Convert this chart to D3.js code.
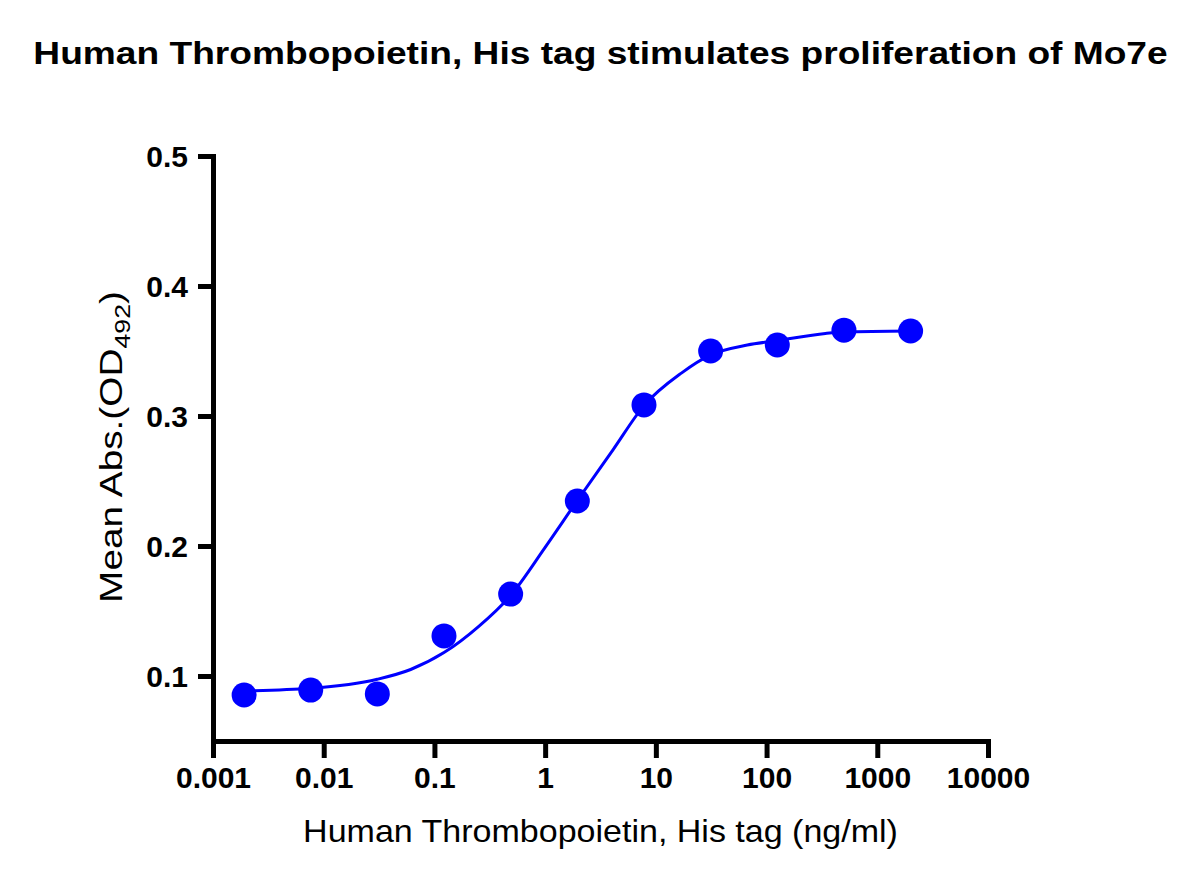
<!DOCTYPE html>
<html><head><meta charset="utf-8">
<script src="https://cdn.jsdelivr.net/npm/d3@7"></script>
<style>body{margin:0;background:#fff}svg{display:block}text{font-family:"Liberation Sans",Arial,sans-serif}</style>
</head><body><svg id="c" width="1200" height="879"></svg>
<script>
const concentrations = [0.00191, 0.00763, 0.0305, 0.122, 0.488, 1.953, 7.8125, 31.25, 125, 500, 2000];
const absorbance = [0.0854, 0.0892, 0.0862, 0.1308, 0.163, 0.2346, 0.3085, 0.350, 0.3546, 0.366, 0.3654];
const curveX = [0.00191, 0.00763, 0.0305, 0.061, 0.122, 0.25, 0.488, 1.0, 1.953, 4.1, 7.8125, 17, 31.25, 67, 125, 340, 500, 2000];
const curveY = [0.0885, 0.0905, 0.0975, 0.105, 0.118, 0.138, 0.162, 0.199, 0.235, 0.274, 0.308, 0.333, 0.347, 0.3546, 0.358, 0.3635, 0.3646, 0.3654];
const xTicks = [0.001, 0.01, 0.1, 1, 10, 100, 1000, 10000];
const xTickLabels = ["0.001","0.01","0.1","1","10","100","1000","10000"];
const yTicks = [0.1, 0.2, 0.3, 0.4, 0.5];

const svg = d3.select("#c");
const x = d3.scaleLog().domain([0.001, 10000]).range([213, 988]);
const y = d3.scaleLinear().domain([0.05, 0.5]).range([741, 156]);
const blue = "#0000ff";

function fit(g, t, target){
  const w = t.node().getBBox().width;
  t.attr("transform", `scale(${target/w},1)`);
}

const tg = svg.append("g").attr("transform","translate(600.5,64)");
const tt = tg.append("text").attr("text-anchor","middle")
  .attr("font-size", 31).attr("font-weight","bold").text("Human Thrombopoietin, His tag stimulates proliferation of Mo7e");
fit(tg, tt, 1135);

const xa = svg.append("g").attr("transform","translate(0,741)")
  .call(d3.axisBottom(x).tickValues(xTicks).tickFormat((d,i)=>xTickLabels[i]).tickSize(17).tickSizeOuter(0).tickPadding(9));
const ya = svg.append("g").attr("transform","translate(213,0)")
  .call(d3.axisLeft(y).tickValues(yTicks).tickFormat(d3.format(".1f")).tickSize(15).tickSizeOuter(0).tickPadding(10));
[xa, ya].forEach(a=>{
  a.select(".domain").attr("stroke","#000").attr("stroke-width",5).attr("stroke-linecap","square");
  a.selectAll(".tick line").attr("stroke","#000").attr("stroke-width",5);
  a.selectAll(".tick text").attr("font-size",30).attr("font-weight","bold").attr("fill","#000")
   .style("font-family","'Liberation Sans',Arial,sans-serif");
});
ya.selectAll(".tick text").attr("dy","0.36em");

const xg = svg.append("g").attr("transform","translate(600.5,842)");
const xt = xg.append("text").attr("text-anchor","middle").attr("font-size", 32).text("Human Thrombopoietin, His tag (ng/ml)");
fit(xg, xt, 595);

const yg = svg.append("g").attr("transform","translate(122,447) rotate(-90)");
const yt = yg.append("text").attr("text-anchor","middle").attr("font-size",32);
yt.append("tspan").text("Mean Abs.(OD");
yt.append("tspan").attr("font-size",22).attr("dy",8).text("492");
yt.append("tspan").attr("dy",-8).text(")");
fit(yg, yt, 312);

const line = d3.line().x((d,i)=>x(curveX[i])).y(d=>y(d)).curve(d3.curveMonotoneX);
svg.append("path").attr("d", line(curveY)).attr("fill","none").attr("stroke",blue).attr("stroke-width",3);

svg.selectAll("circle.pt").data(absorbance).join("circle").attr("class","pt")
  .attr("cx",(d,i)=>x(concentrations[i])).attr("cy",d=>y(d)).attr("r",12.5).attr("fill",blue);
</script></body></html>
